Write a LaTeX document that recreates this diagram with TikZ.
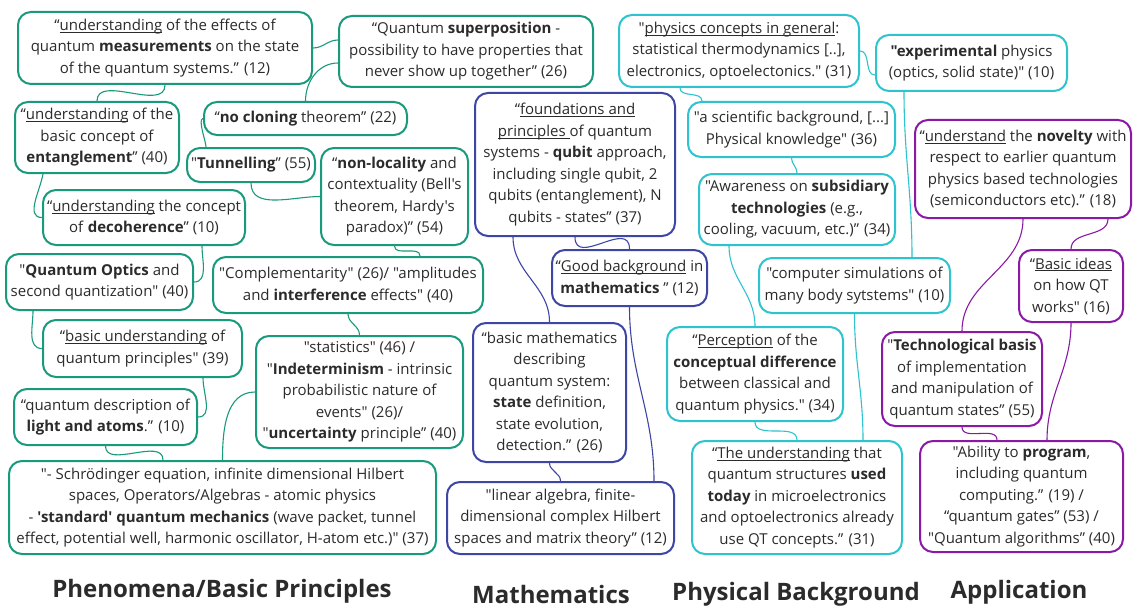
\documentclass[tikz,border=0pt]{standalone}
\usepackage{fontspec}
\setmainfont{Open Sans}[Ligatures=TeXOff]
\definecolor{cg}{HTML}{1A9A7C}
\definecolor{cc}{HTML}{2EC4CF}
\definecolor{cb}{HTML}{3D45A5}
\definecolor{cp}{HTML}{8A1AA6}
\definecolor{txt}{HTML}{2B2B2B}
\newcommand\ulx[1]{\leavevmode\setbox0\hbox{#1}\rlap{\rule[-2.2pt]{\wd0}{0.8pt}}\box0\relax}
\tikzset{
  qbox/.style={draw, rounded corners=13pt, line width=2pt, align=center, inner sep=0pt,
    font=\fontsize{15}{21.5}\selectfont, text=txt},
  gbox/.style={qbox, draw=cg},
  cbox/.style={qbox, draw=cc},
  bbox/.style={qbox, draw=cb},
  pbox/.style={qbox, draw=cp},
  sz/.style 2 args={minimum width=#1pt, minimum height=#2pt},
  conn/.style={line width=1.1pt},
  gl/.style={conn, draw=cg},
  cl/.style={conn, draw=cc},
  bl/.style={conn, draw=cb},
  pl/.style={conn, draw=cp},
  ttl/.style={font=\fontsize{24}{28}\selectfont\bfseries, text=txt, inner sep=0pt}
}
\begin{document}
\begin{tikzpicture}[x=1pt,y=-1pt]
\useasboundingbox (0,0) rectangle (1134,607);
\fill[white] (0,0) rectangle (1134,607);
% green
\node[gbox, sz={294}{72}] (meas) at (165,48) {“\ulx{understanding} of the effects of\\quantum \textbf{measurements} on the state\\of the quantum systems.” (12)};
\node[gbox, sz={254}{71}] (sup) at (466,51.5) {“Quantum \textbf{superposition} -\\possibility to have properties that\\never show up together” (26)};
\node[gbox, sz={203}{33}] (clone) at (305.5,118.5) {“\textbf{no cloning} theorem” (22)};
\node[gbox, sz={164}{71}] (ent) at (97,137.5) {“\ulx{understanding} of the\\basic concept of\\\textbf{entanglement}” (40)};
\node[gbox, sz={128}{34}] (tun) at (251,165) {"\textbf{Tunnelling}” (55)};
\node[gbox, sz={147}{97}] (nonloc) at (394.5,196.5) {“\textbf{non-locality} and\\contextuality (Bell's\\theorem, Hardy's\\paradox)” (54)};
\node[gbox, sz={202}{55}] (deco) at (144,217.5) {“\ulx{understanding} the concept\\of \textbf{decoherence}” (10)};
\node[gbox, sz={187}{56}] (qopt) at (99.5,282) {"\textbf{Quantum Optics} and\\second quantization" (40)};
\node[gbox, sz={270}{56}] (compl) at (348,285) {"Complementarity" (26)/ "amplitudes\\and \textbf{interference} effects" (40)};
\node[gbox, sz={199}{57}] (bu) at (142.5,348.5) {“\ulx{basic understanding} of\\quantum principles" (39)};
\node[gbox, sz={207}{112}] (stat) at (359.5,392) {"statistics" (46) /\\"\textbf{Indeterminism} - intrinsic\\probabilistic nature of\\events" (26)/\\"\textbf{uncertainty} principle” (40)};
\node[gbox, sz={183}{56}] (qdesc) at (105.5,417) {“quantum description of\\\textbf{light and atoms}.” (10)};
\node[gbox, sz={427}{93}] (schr) at (222.5,507.5) {"- Schrödinger equation, infinite dimensional Hilbert\\spaces, Operators/Algebras - atomic physics\\- \textbf{'standard' quantum mechanics} (wave packet, tunnel\\effect, potential well, harmonic oscillator, H-atom etc.)" (37)};
% blue
\node[bbox, sz={200}{143}] (found) at (575,164.5) {“\ulx{foundations and}\\\ulx{principles }of quantum\\systems - \textbf{qubit} approach,\\including single qubit, 2\\qubits (entanglement), N\\qubits - states” (37)};
\node[bbox, sz={155}{56}] (good) at (629.5,278) {“\ulx{Good background} in\\\textbf{mathematics} ” (12)};
\node[bbox, sz={153}{139}] (bmath) at (549.5,392.5) {“basic mathematics\\describing\\quantum system:\\\textbf{state} definition,\\state evolution,\\detection.” (26)};
\node[bbox, sz={227}{72}] (lin) at (560.5,518) {"linear algebra, finite-\\dimensional complex Hilbert\\spaces and matrix theory” (12)};
% cyan
\node[cbox, sz={240}{72}] (phys) at (739,51) {"\ulx{physics concepts in general}:\\statistical thermodynamics [..],\\electronics, optoelectonics." (31)};
\node[cbox, sz={191}{56}] (exp) at (971.5,63) {\textbf{"experimental} physics\\(optics, solid state)" (10)};
\node[cbox, sz={207}{55}] (sci) at (791.5,129.5) {"a scientific background, [...]\\Physical knowledge" (36)};
\node[cbox, sz={196}{71}] (subs) at (797,209.5) {"Awareness on \textbf{subsidiary}\\\textbf{technologies} (e.g.,\\cooling, vacuum, etc.)” (34)};
\node[cbox, sz={191}{55}] (comp) at (854.5,285.5) {"computer simulations of\\many body sytstems" (10)};
\node[cbox, sz={176}{94}] (perc) at (755,374) {“\ulx{Perception} of the\\\textbf{conceptual difference}\\between classical and\\quantum physics." (34)};
\node[cbox, sz={210}{113}] (und) at (797,497.5) {“\ulx{The understanding} that\\quantum structures \textbf{used}\\\textbf{today} in microelectronics\\and optoelectronics already\\use QT concepts.” (31)};
% purple
\node[pbox, sz={216}{98}] (nov) at (1023,169) {“\ulx{understand} the \textbf{novelty} with\\respect to earlier quantum\\physics based technologies\\(semiconductors etc).” (18)};
\node[pbox, sz={104}{72}] (ideas) at (1071,286) {“\ulx{Basic ideas}\\on how QT\\works" (16)};
\node[pbox, sz={160}{94}] (tech) at (962,379) {"\textbf{Technological basis}\\of implementation\\and manipulation of\\quantum states” (55)};
\node[pbox, sz={203}{111}] (prog) at (1021.5,496.5) {"Ability to \textbf{program},\\including quantum\\computing.” (19) /\\“quantum gates” (53) /\\"Quantum algorithms” (40)};
% titles
\node[ttl] (t1) at (222,591) {Phenomena/Basic Principles};
\node[ttl] (t2) at (551,594) {Mathematics};
\node[ttl] (t3) at (796,594) {Physical Background};
\node[ttl] (t4) at (1019,592) {Application};
% green connectors
\draw[gl] (meas.east) to[out=0,in=180] ([yshift=11.5pt]sup.west);
\draw[gl] ([yshift=-11.5pt]sup.west) to[out=180,in=90] (clone.north);
\draw[gl] (meas.south) to[out=-90,in=90] (ent.north);
\draw[gl] (clone.west) to[out=190,in=90,looseness=0.5] ([xshift=-45pt]tun.north);
\draw[gl] (tun.south) to[out=-90,in=180] (nonloc.west);
\draw[gl] ([xshift=-54pt]ent.south) to[out=-100,in=180] (deco.west);
\draw[gl] ([xshift=58pt]deco.south) to[out=-90,in=0] (qopt.east);
\draw[gl] ([xshift=-66.5pt]qopt.south) to[out=-90,in=180] (bu.west);
\draw[gl] ([xshift=60.5pt]bu.south) to[out=-90,in=0] (qdesc.east);
\draw[gl] (qdesc.south) to[out=-90,in=90] ([xshift=-59.5pt]schr.north);
\draw[gl] (stat.west) to[out=180,in=90] (schr.north);
\draw[gl] (compl.south) to[out=-90,in=90] (stat.north);
\draw[gl] (nonloc.south) to[out=-90,in=90] ([xshift=72pt]compl.north);
% blue connectors
\draw[bl] ([xshift=-62pt]found.south) to[out=-90,in=90] (bmath.north);
\draw[bl] (found.south) to[out=-90,in=90,looseness=1.4] (good.north);
\draw[bl] (good.south) to[out=-90,in=90] ([xshift=93.5pt]lin.north);
\draw[bl] (bmath.south) to[out=-90,in=90] (lin.north);
% cyan connectors
\draw[cl] (phys.east) to[out=0,in=180] ([yshift=-12pt]exp.west);
\draw[cl] ([xshift=-59pt]phys.south) to[out=-90,in=90] ([xshift=-89.5pt]sci.north);
\draw[cl] (sci.south) to[out=-90,in=90] (subs.north);
\draw[cl] ([xshift=-68pt]subs.south) to[out=-90,in=90] (perc.north);
\draw[cl] ([xshift=-67.5pt]exp.south) to[out=-90,in=90] ([xshift=57.5pt]comp.north);
\draw[cl] (perc.south) to[out=-90,in=90] (und.north);
\draw[cl] (comp.south) to[out=-90,in=90] ([xshift=66pt]und.north);
% purple connectors
\draw[pl] (nov.south) to[out=-90,in=90] (tech.north);
\draw[pl] ([xshift=85pt]nov.south) to[out=-90,in=90] (ideas.north);
\draw[pl] (ideas.south) to[out=-90,in=90] ([xshift=25.5pt]prog.north);
\draw[pl] (tech.south) to[out=-90,in=90] ([xshift=-24.5pt]prog.north);
\end{tikzpicture}
\end{document}
